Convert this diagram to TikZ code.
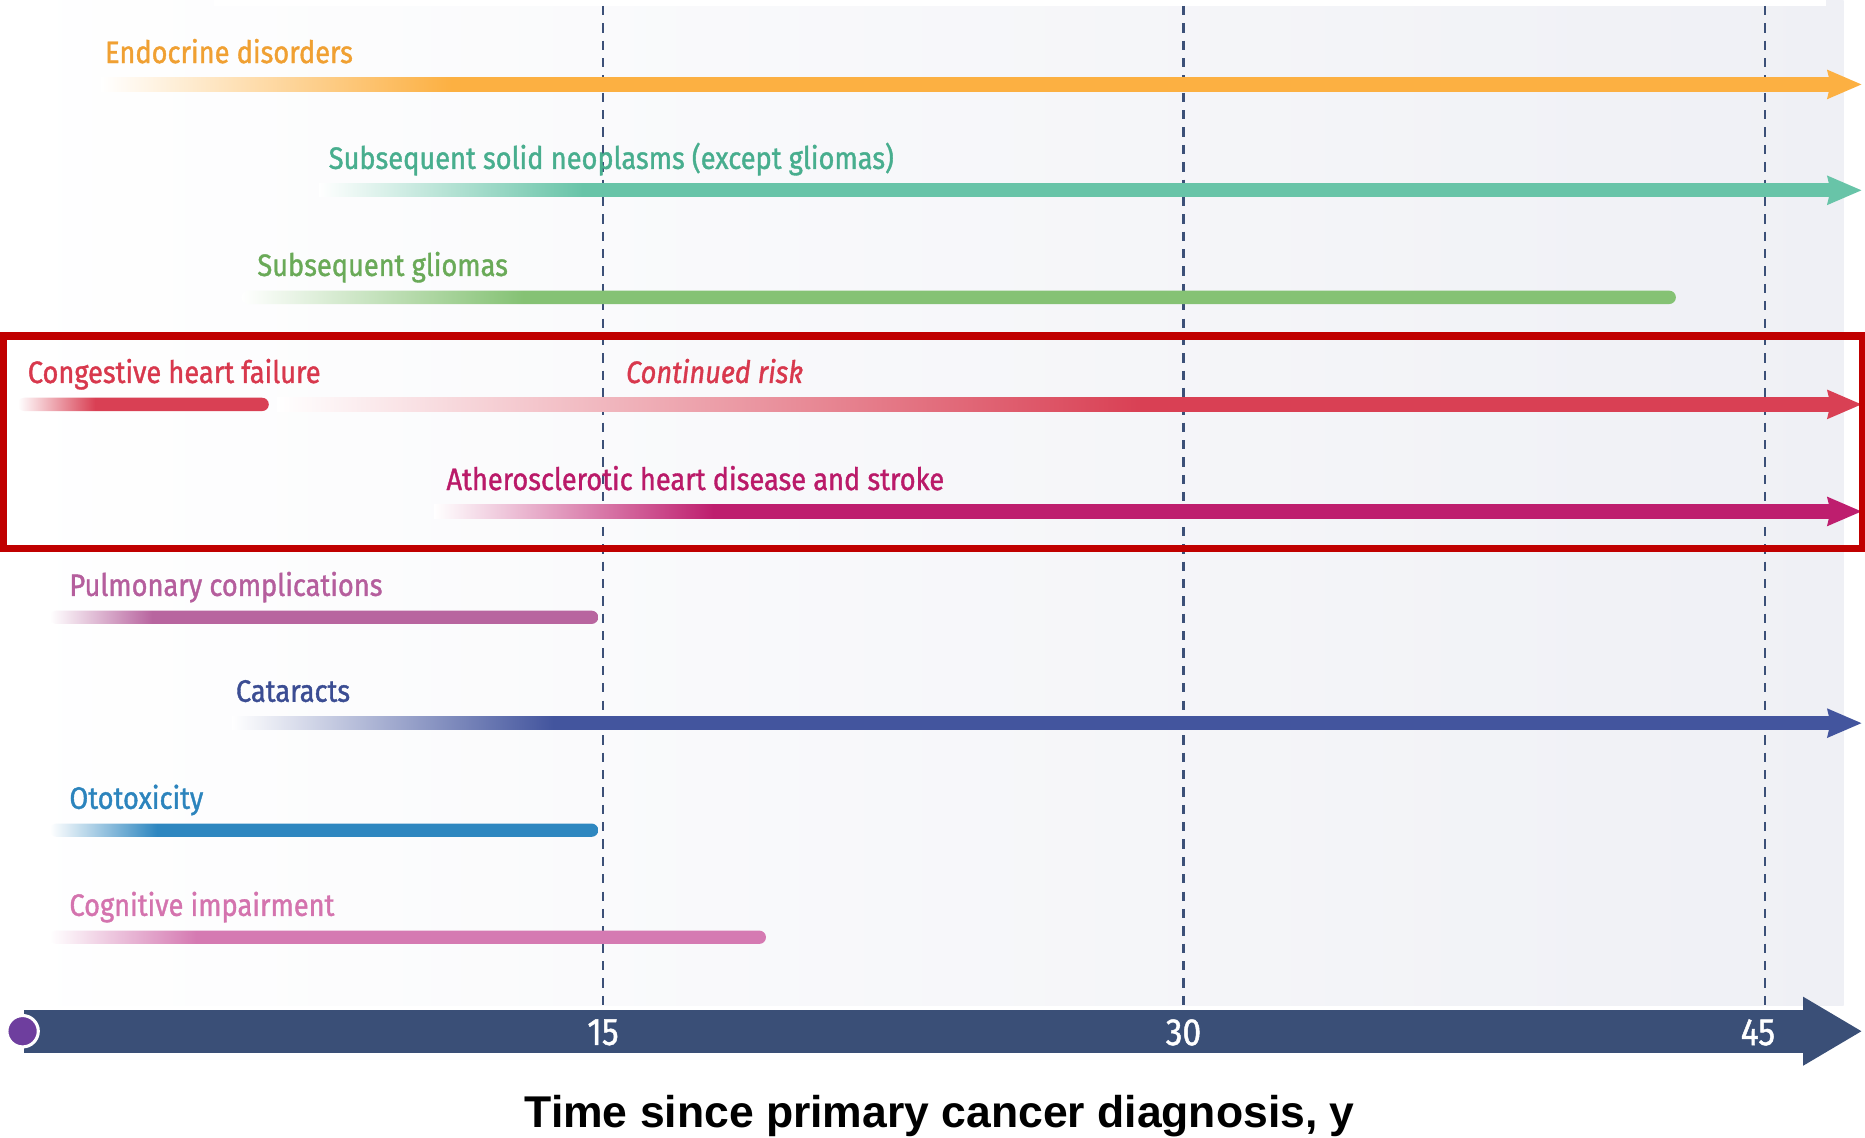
\documentclass[tikz,border=0pt]{standalone}
\usepackage{fontspec}
\newfontfamily\lab[FakeStretch=0.88,FakeBold=1.2]{Fira Sans}
\setsansfont{Liberation Sans}
\definecolor{bgR}{RGB}{239,240,245}
\definecolor{dashc}{RGB}{60,80,120}
\definecolor{axisc}{RGB}{58,79,119}
\definecolor{dotc}{RGB}{110,62,158}
\definecolor{boxc}{RGB}{192,0,0}
\definecolor{cEnd}{RGB}{252,176,66}  \definecolor{lEnd}{RGB}{240,160,50}
\definecolor{cSol}{RGB}{104,196,168} \definecolor{lSol}{RGB}{72,174,142}
\definecolor{cGli}{RGB}{133,194,116} \definecolor{lGli}{RGB}{106,170,88}
\definecolor{cChf}{RGB}{217,64,84}   \definecolor{lChf}{RGB}{216,56,77}
\definecolor{cAth}{RGB}{190,30,110}  \definecolor{lAth}{RGB}{186,26,105}
\definecolor{cPul}{RGB}{184,101,159} \definecolor{lPul}{RGB}{181,94,157}
\definecolor{cCat}{RGB}{67,85,158}   \definecolor{lCat}{RGB}{59,77,147}
\definecolor{cOto}{RGB}{46,135,192}  \definecolor{lOto}{RGB}{44,132,189}
\definecolor{cCog}{RGB}{213,122,178} \definecolor{lCog}{RGB}{212,115,174}
% shading name, colour, y, x0, x1 (fade end)  -> arrow up to x=1565
\newcommand\riskarrow[5]{%
  \pgfmathsetmacro\rkF{25+(#5-#4)/(1541-#4)*50}%
  \pgfdeclarehorizontalshading{#1}{100bp}{color(0bp)=(white); color(25bp)=(white); color(\rkF bp)=(#2); color(100bp)=(#2)}%
  \shade[shading=#1] (#4,#3-5.6) rectangle (1541,#3+5.6);
  \fill[#2] (1536,#3-12.5) -- (1565,#3) -- (1536,#3+12.5) -- (1539,#3) -- cycle;
}
% shading name, colour, y, x0, x1 (fade end), xend (round end)
\newcommand\riskbar[6]{%
  \pgfmathsetmacro\rkF{25+(#5-#4)/(#6-#4)*50}%
  \pgfdeclarehorizontalshading{#1}{100bp}{color(0bp)=(white); color(25bp)=(white); color(\rkF bp)=(#2); color(100bp)=(#2)}%
  \shade[shading=#1, rounded corners=2.8pt] (#4,#3-5.6) rectangle (#6,#3+5.6);
}
\begin{document}
\begin{tikzpicture}[x=0.5pt,y=-0.5pt,
  lbl/.style={font=\lab\fontsize{13}{15}\selectfont, inner sep=0pt, anchor=base west},
  ticklbl/.style={font=\lab\fontsize{16}{18}\selectfont, inner sep=0pt, text=white},
  vdash/.style={dashc, line width=0.9pt, dash pattern=on 3.9pt off 3.4pt}]
\useasboundingbox (0,0) rectangle (1568,956);
\fill[white] (0,0) rectangle (1568,956);
% background panel
\shade[left color=white, right color=bgR] (0,0) rectangle (1550,845);
\fill[white] (180,0) rectangle (1535,5);
% dashed guides
\coordinate (g15t) at (507,5);  \coordinate (g15b) at (507,845);
\coordinate (g30t) at (995,5);  \coordinate (g30b) at (995,845);
\coordinate (g45t) at (1484,5); \coordinate (g45b) at (1484,845);
\draw[vdash] (g15t) -- (g15b);
\draw[vdash] (g30t) -- (g30b);
\draw[vdash] (g45t) -- (g45b);
% rows
\riskarrow{shEnd}{cEnd}{71}{85}{380}
\node[lbl, text=lEnd] (tEnd) at (88,53) {Endocrine disorders};
\riskarrow{shSol}{cSol}{160}{268}{490}
\node[lbl, text=lSol] (tSol) at (276,142) {Subsequent solid neoplasms (except gliomas)};
\riskbar{shGli}{cGli}{250}{203}{440}{1409}
\node[lbl, text=lGli] (tGli) at (216,232) {Subsequent gliomas};
\riskbar{shChfA}{cChf}{340}{15}{80}{226}
\riskarrow{shChfB}{cChf}{340}{233}{960}
\node[lbl, text=lChf] (tChf) at (23,322) {Congestive heart failure};
\node[lbl, text=lChf] (tCont) at (526,322) {\itshape Continued risk};
\riskarrow{shAth}{cAth}{430}{365}{600}
\node[lbl, text=lAth] (tAth) at (375,412) {Atherosclerotic heart disease and stroke};
\riskbar{shPul}{cPul}{519}{42}{128}{503}
\node[lbl, text=lPul] (tPul) at (58,501) {Pulmonary complications};
\riskarrow{shCat}{cCat}{608}{195}{465}
\node[lbl, text=lCat] (tCat) at (198,590) {Cataracts};
\riskbar{shOto}{cOto}{698}{42}{132}{503}
\node[lbl, text=lOto] (tOto) at (58,680) {Ototoxicity};
\riskbar{shCog}{cCog}{788}{42}{165}{644}
\node[lbl, text=lCog] (tCog) at (58,770) {Cognitive impairment};
% highlight box
\draw[boxc, line width=3pt] (3,282.5) rectangle (1566,461.5);
% axis
\fill[axisc] (20,849) rectangle (1516,885);
\fill[axisc] (1516,838) -- (1565,867) -- (1516,896) -- cycle;
\filldraw[fill=dotc, draw=white, line width=1.3pt] (19,867) circle [radius=6.6pt];
\node[ticklbl] (n15) at (507,868) {15};
\node[ticklbl] (n30) at (995,868) {30};
\node[ticklbl] (n45) at (1478,868) {45};
\node[font=\sffamily\bfseries\fontsize{18.7}{22}\selectfont, inner sep=0pt, anchor=base] (title) at (790,948) {Time since primary cancer diagnosis, y};
\end{tikzpicture}
\end{document}
